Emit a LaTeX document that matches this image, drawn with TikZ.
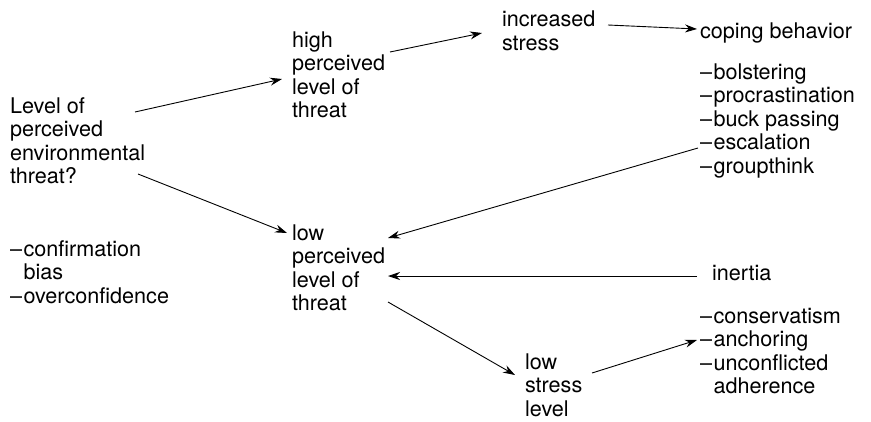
\documentclass[tikz,border=0pt]{standalone}
\usepackage{fontspec}
\setmainfont{TeX Gyre Heros}
\usetikzlibrary{arrows.meta}
\newcommand{\dsh}{–\kern1.5pt}
\newcommand{\ind}{\phantom{–}\kern1.5pt}
\tikzset{
  lbl/.style={anchor=base west, inner sep=0pt, outer sep=0pt, align=left,
              font=\fontsize{21.6}{23.5}\selectfont},
  arr/.style={line width=0.9pt, -{Stealth[length=12pt,width=8pt,inset=4pt]}},
}
\begin{document}
\begin{tikzpicture}[x=1pt,y=-1pt]
\useasboundingbox (0,0) rectangle (871,421);
% base west = baseline of the last line
\node[lbl] (lvl) at (10,183.5) {Level of\\perceived\\environmental\\threat?};
\node[lbl] (high) at (292,117.5) {high\\perceived\\level of\\threat};
\node[lbl] (inc) at (502,50) {increased\\stress};
\node[lbl] (cope) at (700,38) {coping behavior};
\node[lbl] (copel) at (700,173) {\dsh bolstering\\\dsh procrastination\\\dsh buck passing\\\dsh escalation\\\dsh groupthink};
\node[lbl] (low) at (292,310.5) {low\\perceived\\level of\\threat};
\node[lbl] (bias) at (10,303) {\dsh confirmation\\\ind bias\\\dsh overconfidence};
\node[lbl] (inertia) at (712,280) {inertia};
\node[lbl] (cons) at (700,393.5) {\dsh conservatism\\\dsh anchoring\\\dsh unconflicted\\\ind adherence};
\node[lbl] (lows) at (525,416) {low\\stress\\level};
\coordinate (escA) at ([shift={(-2,-25)}]copel.base west);

\draw[arr] ([shift={(125,-71.5)}]lvl.base west) -- ([shift={(-10,-38.5)}]high.base west);
\draw[arr] ([shift={(128,-9.5)}]lvl.base west) -- ([shift={(-5,-77.5)}]low.base west);
\draw[arr] ([shift={(98,-65.5)}]high.base west) -- ([shift={(-20,-17)}]inc.base west);
\draw[arr] ([shift={(106,-25)}]inc.base west) -- ([shift={(-3,-9)}]cope.base west);
\draw[arr] (escA) -- ([shift={(96,-72.5)}]low.base west);
\draw[arr] ([shift={(-15,-4)}]inertia.base west) -- ([shift={(96,-34.5)}]low.base west);
\draw[arr] ([shift={(96,-8.5)}]low.base west) -- ([shift={(-10,-41)}]lows.base west);
\draw[arr] ([shift={(67,-43)}]lows.base west) -- ([shift={(-3,-53.5)}]cons.base west);
\end{tikzpicture}
\end{document}
